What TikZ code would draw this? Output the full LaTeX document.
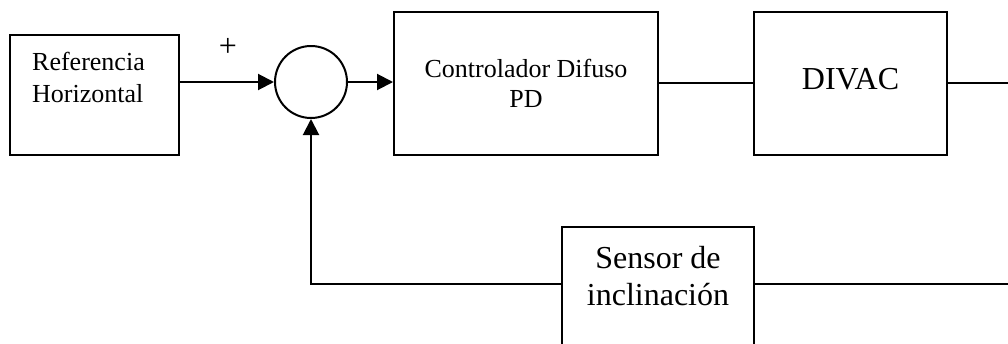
\documentclass[tikz,border=0pt]{standalone}
\usepackage{fontspec}
\setmainfont{Liberation Serif}
\usetikzlibrary{arrows.meta}
\begin{document}
\begin{tikzpicture}[x=1pt,y=-1pt,
  box/.style={draw, line width=2pt, rectangle, inner sep=0pt},
  wire/.style={line width=2pt},
  arr/.style={wire, -{Triangle[length=16pt,width=16pt]}},
  smalltxt/.style={font=\fontsize{26}{32}\selectfont, inner sep=0pt},
  bigtxt/.style={font=\fontsize{32}{37}\selectfont, inner sep=0pt, align=center}]
\useasboundingbox (0,0) rectangle (1008,343);
\clip (0,0) rectangle (1008,343);
% blocks
\node[box, minimum width=169pt, minimum height=120pt] (ref) at (94.5,95) {};
\node[draw, circle, line width=2pt, minimum size=72pt, inner sep=0pt] (sum) at (311,82) {};
\node[box, minimum width=264pt, minimum height=143pt] (ctrl) at (526,83.5) {};
\node[box, minimum width=193pt, minimum height=143pt] (divac) at (850.5,83.5) {};
\node[box, minimum width=192pt, minimum height=160pt] (sens) at (658,307) {};
% texts
\node[smalltxt, anchor=base west] (t1) at (32,70) {Referencia};
\node[smalltxt, anchor=base west] (t2) at (32,102) {Horizontal};
\node[smalltxt, anchor=base] (t3) at (526,77) {Controlador Difuso};
\node[smalltxt, anchor=base] (t4) at (526,107) {PD};
\node[bigtxt, anchor=base] (t5) at (850.5,89) {DIVAC};
\node[bigtxt, anchor=base] (t6) at (658,268) {Sensor de};
\node[bigtxt, anchor=base] (t7) at (658,305) {inclinación};
\node[font=\fontsize{32}{36}\selectfont, inner sep=0pt] (plus) at (228,47) {+};
% connectors
\coordinate (outR) at (1012,83);
\coordinate (fbR) at (1012,284);
\draw[arr] (ref.east |- sum.west) -- (sum.west);
\draw[arr] (sum.east) -- (ctrl.west |- sum.east);
\draw[wire] (ctrl.east |- outR) -- (divac.west |- outR);
\draw[wire] (divac.east |- outR) -- (outR);
\draw[wire] (fbR) -- (sens.east |- fbR);
\draw[arr] (sens.west |- fbR) -| (sum.south);
\end{tikzpicture}
\end{document}
